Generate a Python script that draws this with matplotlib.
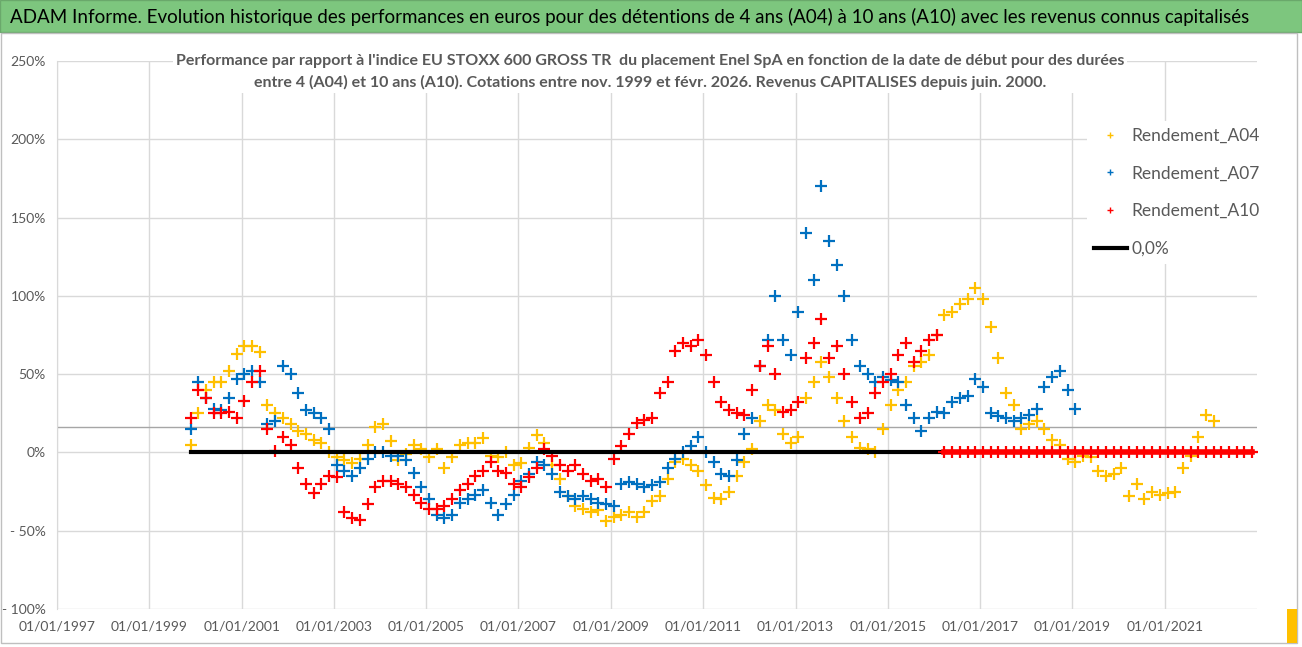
import numpy as np
import pandas as pd
import matplotlib
matplotlib.use("Agg")
import matplotlib.pyplot as plt
import matplotlib.dates as mdates
from matplotlib.lines import Line2D
from matplotlib.patches import Rectangle

plt.rcParams['font.family'] = ['Lato', 'DejaVu Sans']

# --- data (one value every ~2 months from Nov 1999) ---
start_date = "1999-11-24"
step_days = 60.875

a04 = [5, 25, 40, 45, 45, 52, 63, 68, 68, 64,
       30, 25, 22, 18, 14, 12, 8, 6, 0, -3,
       -5, -7, -4, 5, 16, 18, 7, -5, -1, 5,
       2, -3, 2, -10, -3, 5, 6, 6, 9, -2,
       -3, 0, -8, -7, 3, 11, 6, -8, -17, -28,
       -34, -36, -38, -37, -44, -41, -40, -38, -41, -38,
       -31, -28, -17, -6, -4, -8, -12, -21, -29, -30,
       -25, -15, -6, 2, 20, 30, 27, 12, 6, 10,
       35, 45, 58, 48, 35, 20, 10, 3, 2, 0,
       15, 30, 40, 45, 55, 58, 62, 75, 88, 90,
       95, 98, 105, 98, 80, 60, 38, 30, 15, 18,
       20, 15, 8, 5, -4, -6, -2, -3, -12, -15,
       -14, -10, -28, -20, -30, -25, -27, -26, -25, -10,
       -2, 10, 24, 20]

a07 = [15, 45, 35, 28, 27, 35, 47, 50, 52, 45,
       18, 20, 55, 50, 38, 27, 25, 22, 15, -8,
       -12, -15, -10, -4, 0, 0, -2, -2, -5, -13,
       -22, -30, -40, -42, -40, -32, -30, -27, -24, -32,
       -40, -33, -27, -18, -14, -6, -8, -14, -25, -28,
       -30, -28, -30, -32, -33, -34, -20, -19, -20, -22,
       -21, -19, -10, -4, 0, 4, 10, 0, -6, -14,
       -15, -5, 12, 22, 55, 72, 100, 72, 62, 90,
       140, 110, 170, 135, 120, 100, 72, 55, 50, 45,
       48, 46, 45, 30, 22, 14, 22, 26, 25, 32,
       35, 36, 47, 42, 25, 23, 22, 20, 22, 24,
       28, 42, 48, 52, 40, 28]

a10_known = [22, 40, 35, 25, 25, 26, 22, 33, 45, 52,
             15, 1, 10, 5, -10, -20, -26, -20, -15, -16,
             -38, -42, -43, -33, -22, -18, -18, -20, -22, -27,
             -32, -36, -36, -34, -30, -24, -20, -15, -12, -6,
             -12, -13, -20, -22, -16, -10, 2, -2, -8, -12,
             -8, -14, -18, -17, -22, -4, 4, 12, 19, 21,
             22, 38, 45, 65, 70, 68, 72, 62, 45, 32,
             27, 25, 24, 40, 55, 68, 50, 26, 27, 32,
             60, 70, 85, 60, 68, 50, 32, 22, 25, 38,
             45, 50, 62, 70, 58, 65, 72, 75]
a10_future = [0] * 41    # not yet known -> plotted at 0
a10 = a10_known + a10_future

ref_line = 16.5          # grey horizontal line across the plot
y_ticks = [-100, -50, 0, 50, 100, 150, 200, 250]
y_labels = ["- 100%", "- 50%", "0%", "50%", "100%", "150%", "200%", "250%"]
x_tick_years = list(range(1997, 2022, 2))

title = ("ADAM Informe. Evolution historique des performances en euros pour des "
         "détentions de 4 ans (A04) à 10 ans (A10) avec les revenus connus capitalisés")
subtitle = ("Performance par rapport à l'indice EU STOXX 600 GROSS TR  du placement Enel SpA "
            "en fonction de la date de début pour des durées\n"
            "entre 4 (A04) et 10 ans (A10). Cotations entre nov. 1999 et févr. 2026. "
            "Revenus CAPITALISES depuis juin. 2000.")


def dates_for(n):
    return pd.Timestamp(start_date) + pd.to_timedelta(np.arange(n) * step_days, unit="D")


d04, d07, d10 = dates_for(len(a04)), dates_for(len(a07)), dates_for(len(a10))
a10_arr = np.array(a10, dtype=float)
future = np.arange(len(a10)) >= len(a10_known)

W, H = 1302, 647
fig = plt.figure(figsize=(W / 100, H / 100), dpi=100)

# green banner + outer frame
fig.patches.append(Rectangle((0, 1 - 32 / H), 1, 32 / H, transform=fig.transFigure,
                             facecolor="#7DC67E", edgecolor="#6aa86b", lw=1, zorder=0))
fig.patches.append(Rectangle((1 / W, 4 / H), 1296 / W, (643 - 33) / H, transform=fig.transFigure,
                             facecolor="none", edgecolor="#bfbfbf", lw=1, zorder=0))
fig.patches.append(Rectangle((1287 / W, 4 / H), 10 / W, 34 / H, transform=fig.transFigure,
                             facecolor="#FFC000", edgecolor="none", zorder=0))
fig.text(10 / W, 1 - 17 / H, title, fontsize=13.5, color="black", ha="left", va="center")

ax = fig.add_axes([57 / W, 1 - 609 / H, 1200 / W, 548 / H])
ax.set_xlim(pd.Timestamp("1997-01-01"), pd.Timestamp("2023-01-01"))
ax.set_ylim(-100, 250)

mk = dict(marker="+", linestyle="none", markersize=8, markeredgewidth=1.6)
ax.plot(d04, a04, color="#FFC000", zorder=3, **mk)
ax.plot(d07, a07, color="#0070C0", zorder=3, **mk)
ax.plot(d10[~future], a10_arr[~future], color="#FF0000", zorder=3, **mk)
ax.plot([d10[0], d10[-1]], [0, 0], color="black", lw=3, zorder=4)
ax.plot(d10[future], a10_arr[future], color="#FF0000", lw=4, zorder=5,
        marker="+", markersize=8, markeredgewidth=1.6)
ax.axhline(ref_line, color="#a6a6a6", lw=1, zorder=2)

ax.set_yticks(y_ticks)
ax.set_yticklabels(y_labels)
ax.set_xticks([pd.Timestamp(f"{y}-01-01") for y in x_tick_years])
ax.xaxis.set_major_formatter(mdates.DateFormatter("%d/%m/%Y"))
ax.grid(True, color="#d9d9d9", lw=1, zorder=0)
ax.set_axisbelow(True)
for s in ax.spines.values():
    s.set_visible(False)
ax.spines["left"].set_visible(True)
ax.spines["left"].set_color("#d9d9d9")
ax.tick_params(length=0, labelsize=10, labelcolor="#595959")
ax.tick_params(axis="x", pad=8)
ax.tick_params(axis="y", pad=8)

fig.text(650 / W, 1 - 72 / H, subtitle, fontsize=11.5, fontweight="bold", color="#595959",
         ha="center", va="center", linespacing=1.6,
         bbox=dict(facecolor="white", edgecolor="none", pad=2))

handles = [
    Line2D([], [], color="#FFC000", marker="+", linestyle="none", markersize=5, markeredgewidth=1),
    Line2D([], [], color="#0070C0", marker="+", linestyle="none", markersize=5, markeredgewidth=1),
    Line2D([], [], color="#FF0000", marker="+", linestyle="none", markersize=5, markeredgewidth=1),
    Line2D([], [], color="black", lw=3),
]
leg = ax.legend(handles, ["Rendement_A04", "Rendement_A07", "Rendement_A10", "0,0%"],
                loc="upper left", bbox_to_anchor=(1078 / W, 1 - 112 / H),
                bbox_transform=fig.transFigure, frameon=True, facecolor="white",
                edgecolor="none", framealpha=1, fontsize=12.5, labelspacing=1.25,
                handlelength=1.9, handletextpad=0.3, borderpad=0.4)
for t in leg.get_texts():
    t.set_color("#595959")
leg.set_zorder(10)

fig.savefig("out.png", dpi=100)
